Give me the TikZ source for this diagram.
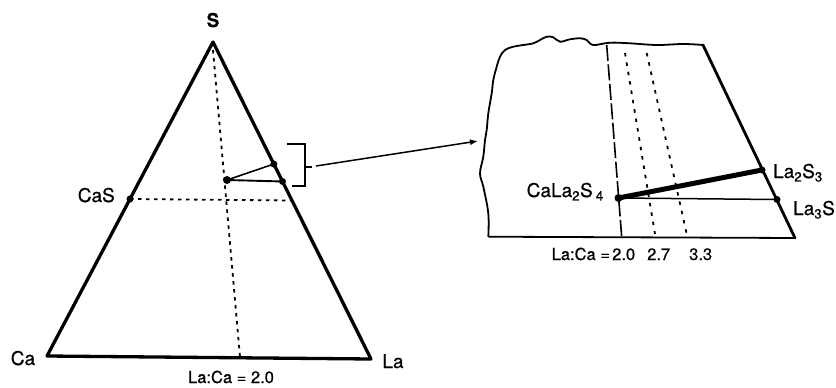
\documentclass[tikz,border=0pt]{standalone}
\usepackage{fontspec}
\setmainfont{TeX Gyre Heros}[FakeBold=0.6]
\usetikzlibrary{arrows.meta,calc}
\begin{document}
\begin{tikzpicture}[x=1pt,y=-1pt,
  edge/.style={line width=3.3pt,line join=round,line cap=round},
  thinline/.style={line width=1.6pt},
  dotline/.style={line width=1.8pt,dash pattern=on 3.5pt off 4.5pt},
  rdotline/.style={line width=1.8pt,dash pattern=on 3.5pt off 6pt},
  longdash/.style={line width=1.6pt,dash pattern=on 16pt off 3.5pt},
  dotpt/.style={circle,fill=black,inner sep=0pt,minimum size=7pt},
  lbl/.style={inner sep=0pt,font=\fontsize{19}{21}\selectfont},
  small/.style={inner sep=0pt,font=\fontsize{16.5}{18}\selectfont}]
\useasboundingbox (0,0) rectangle (836,388);
% ---- triangle
\coordinate (S) at (213,42);
\coordinate (Ca) at (47,356);
\coordinate (La) at (371,359);
\coordinate (CaS) at ($(S)!0.5!(Ca)$);
\coordinate (mid) at ($(S)!0.5!(La)$);
\coordinate (top) at (213,50);
\coordinate (bot) at (240,357);
\coordinate (cls) at (227,180);
\coordinate (l23) at ($(S)!0.385!(La)$);
\coordinate (l34) at ($(S)!0.44!(La)$);
\draw[dotline] (top) -- (bot);
\draw[dotline] (CaS) -- (mid);
\draw[edge] (S) -- (Ca) -- (La) -- cycle;
\draw[thinline] (cls) -- (l23);
\draw[line width=1.9pt] (cls) -- (l34);
\node[dotpt] (pCaS) at (CaS) {};
\node[dotpt,minimum size=8pt] (pcls) at (cls) {};
\node[dotpt] (pl23) at (l23) {};
\node[dotpt] (pl34) at (l34) {};
\node[lbl,anchor=base,font=\fontsize{19}{21}\selectfont\bfseries] (tS) at (213,27) {S};
\node[lbl,anchor=base] (tCa) at (23,365) {Ca};
\node[lbl,anchor=base] (tLa) at (393,368) {La};
\node[lbl,anchor=base east] (tCaS) at (115,202) {CaS};
\node[small,anchor=base] (tratio) at (231,383) {La:Ca = 2.0};
% ---- bracket and arrow
\coordinate (bt1) at (287,144);
\coordinate (bt2) at (305,144);
\coordinate (bb2) at (305,186);
\coordinate (bb1) at (292,186);
\coordinate (bm) at (305,167);
\coordinate (d1) at (312,167);
\coordinate (a0) at (316,166);
\coordinate (a1) at (478,141);
\draw[line width=1.8pt] (bt1) -- (bt2) -- (bb2) -- (bb1);
\draw[line width=1.5pt] (bm) -- (d1);
\draw[line width=1.5pt,-{Latex[length=8pt,width=6pt]}] (a0) -- (a1);
% ---- enlarged region
\coordinate (TR) at (703,45);
\coordinate (BR) at (795,238);
\coordinate (BL) at (488.3,236.7);
\draw[line width=1.8pt,line join=round] plot[smooth,tension=0.6] coordinates {
 (703.3,45) (683.3,44) (656.7,45) (630,43.3) (610,42.7) (593.3,45) (586.7,40)
 (580,38.3) (570,39.3) (560,41.7) (553.3,37.3) (546.7,36.7) (540,40) (533.3,43.3)
 (523.3,45) (513.3,46.7) (505,50) (500,56.7) (496.7,66.7) (493.3,80) (491.7,93.3)
 (488.3,113.3) (486.7,130) (485,140) (483.3,156.7) (480,173.3) (483.3,186.7)
 (488.3,213.3) (488.3,236.7)};
\draw[line width=1.8pt] (BL) -- (BR);
\draw[line width=2.8pt,line cap=round] (BR) -- (TR);
\coordinate (d20t) at (606.7,45);
\coordinate (d20b) at (621.7,237);
\coordinate (d27t) at (625,53);
\coordinate (d27b) at (655,234);
\coordinate (d33t) at (646.7,53);
\coordinate (d33b) at (686.7,234);
\draw[longdash] (d20t) -- (d20b);
\draw[rdotline] (d27t) -- (d27b);
\draw[rdotline] (d33t) -- (d33b);
\coordinate (rcls) at (618.5,198);
\coordinate (rl23) at (762,170);
\coordinate (rl34) at (777,199.5);
\draw[line width=1.5pt] (rcls) -- (rl34);
\draw[line width=5pt] (rcls) -- (rl23);
\node[dotpt,minimum size=8pt] (prcls) at (rcls) {};
\node[dotpt] (prl23) at (rl23) {};
\node[dotpt] (prl34) at (rl34) {};
\node[lbl,anchor=base west] (tL23) at (773,178) {La\textsubscript{2}S\textsubscript{3}};
\node[lbl,anchor=base west] (tL34) at (793,215) {La\textsubscript{3}S};
\node[lbl,anchor=base east] (tCL) at (604,197) {CaLa\textsubscript{2}S\,\textsubscript{4}};
\node[small,anchor=base west] (r0) at (551.5,260) {La:Ca =};
\node[small,anchor=base west] (r1) at (612,260) {2.0};
\node[small,anchor=base west] (r2) at (647,260) {2.7};
\node[small,anchor=base west] (r3) at (689,260) {3.3};
\end{tikzpicture}
\end{document}
